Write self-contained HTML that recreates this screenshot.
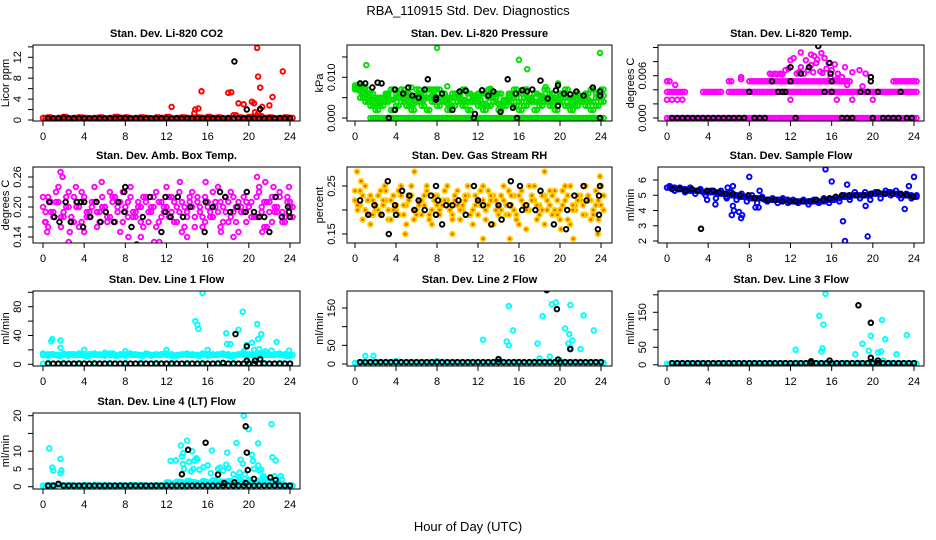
<!DOCTYPE html>
<html><head><meta charset="utf-8"><style>
html,body{margin:0;padding:0;background:#fff}
svg{display:block;font-family:"Liberation Sans",Arial,sans-serif}
</style></head><body>
<svg id="chart" width="936" height="540" viewBox="0 0 936 540" xmlns="http://www.w3.org/2000/svg">
<rect x="0" y="0" width="936" height="540" fill="#fff"/>
<text x="468" y="15" font-size="13" text-anchor="middle">RBA_110915  Std. Dev. Diagnostics</text>
<text x="468" y="531" font-size="13" text-anchor="middle">Hour of Day (UTC)</text>
</svg>
<script>
// ---------- data ----------
const xTicks=[0,4,8,12,16,20,24];
const co2Band=[0.4,0.5,0.3,0.4,0.6,0.3,0.4,0.5,0.4,0.3,0.4,0.5,0.3,0.4,0.6,0.4,0.5,0.3,0.4,0.5,0.4,0.3,0.5,0.4,0.6,0.3,0.4,0.5,0.4,0.3,0.5,0.4,0.6,0.4,0.5,0.3,0.4,0.9,0.5,0.4,0.6,0.5,0.7,0.4,0.5,0.3,0.4,0.5,0.4];
const co2OutX=[12.5,14.8,15.1,15.4,18,18.3,19,19.5,20.3,20.5,20.8,20.9,21.1,21.3,22,22.3,23.3,20.6,20.9,14.7];
const co2OutY=[2.5,2,2.2,5.5,5.2,5.3,3.2,3,3.5,3.2,13.8,8.3,6.2,2.5,2.8,4.4,9.3,1.5,1.2,1.3];
const co2Black=[0.3,0.3,0.3,0.4,0.3,0.3,0.3,0.3,0.3,0.3,0.3,0.3,0.3,0.3,0.4,0.3,0.3,0.3,0.3,0.3,0.3,0.3,0.3,0.3,0.3,0.3,0.3,0.3,0.3,0.3,0.3,0.3,0.3,0.3,0.3,0.3,0.3,0.3,0.3,0.3,0.3,0.3,0.3,0.3,0.3,0.3,0.3,0.3];
const co2BlkX=[18.6,19.8,21.1];
const co2BlkY=[11.2,2,2.1];

const prsA=[0.008,0.008,0.007,0.006,0.005,0.004,0.006,0.007,0.006,0.007,0.006,0.005,0.007,0.006,0.007,0.007,0.007,0.006,0.005,0.006,0.006,0.007,0.006,0.005,0.006,0.006,0.007,0.005,0.006,0.004,0.006,0.007,0.006,0.007,0.005,0.006,0.004,0.007,0.006,0.005,0.006,0.007,0.005,0.006,0.004,0.006,0.007,0.006,0.007];
const prsB=[0.007,0.005,0.004,0.003,0.002,0.003,0.004,0.002,0.003,0.004,0.003,0.002,0.004,0.003,0.002,0.004,0.003,0.004,0.002,0.003,0.004,0.003,0.002,0.004,0.003,0.002,0.003,0.004,0.002,0.003,0.004,0.003,0.002,0.003,0.004,0.002,0.003,0.004,0.003,0.002,0.004,0.003,0.002,0.003,0.004,0.003,0.002,0.003,0.004];
const prsC=[0.0075,0.0065,0.0055,0.0045,0.0035,0.005,0.0055,0.0045,0.005,0.0055,0.0045,0.0035,0.0055,0.0045,0.005,0.0055,0.005,0.0045,0.0035,0.005,0.0055,0.0045,0.004,0.0055,0.0045,0.0035,0.005,0.006,0.0035,0.0045,0.0055,0.005,0.004,0.005,0.0045,0.004,0.0055,0.005,0.0045,0.004,0.0055,0.005,0.0035,0.0045,0.005,0.0045,0.004,0.005,0.0055];
const prsZero=[null,null,null,0,0,0,0,0,0,0,0,0,0,0,0,0,0,0,0,0,0,0,0,0,0,0,0,0,0,0,0,0,0,0,0,0,0,0,0,0,0,0,0,0,0,0,0,0,0];
const prsOutX=[1.1,8,16,16.8,19.8,23.9,5.5,9,13.2,18.6];
const prsOutY=[0.013,0.0172,0.0143,0.012,0.0085,0.016,0.0075,0.0078,0.0072,0.0076];
const prsBlkX=[0.5,1,1.7,2.2,2.6,3.3,3.9,3.9,4.7,5.2,5.6,6.2,6.8,7.1,7.9,7.9,8.5,9.5,10.2,10.8,11.6,11.7,12.4,13,13.5,14.2,14.9,15.4,15.8,15.7,16.3,16.8,17.3,18.1,18.8,19.6,19.8,19.8,20.4,21,21.6,22.3,23.2,23.9,23.9,23.9];
const prsBlkY=[0.0085,0.0085,0.0075,0.0087,0.0085,0,0.007,0.002,0.006,0.0075,0.0055,0.005,0.007,0.0095,0.0045,0.005,0.006,0.002,0.0065,0.0067,0,0.001,0.0068,0.0055,0.0065,0.0015,0.0095,0.0025,0,0.006,0.0068,0.0065,0.007,0.0092,0.0048,0.0068,0.008,0.003,0.006,0.0058,0.0065,0.0055,0.0075,0.0065,0.0055,0];

const tmpL37=[0.0037,0.0037,0.0037,0.0037,null,null,null,0.0037,0.0037,0.0037,0.0037,null,0.0037,0.0037,0.0037,0.0037,0.0037,0.0037,0.0037,0.0037,0.0037,0.0037,0.0037,0.0037,0.0037,0.0037,0.0037,0.0037,0.0037,0.0037,0.0037,0.0037,0.0037,0.0037,0.0037,0.0037,0.0037,0.0037,0.0037,0.0037,0.0037,0.0037,0.0037,0.0037,0.0037,0.0037,0.0037,0.0037,0.0037];
const tmpL52=[0.0052,null,null,null,null,null,null,null,null,null,null,null,0.0052,null,null,null,0.0052,0.0052,0.0052,0.0052,0.0052,0.0052,0.0052,0.0052,0.0052,0.0052,0.0052,0.0052,0.0052,0.0052,0.0052,0.0052,0.0052,0.0052,0.0052,0.0052,null,null,null,null,null,null,null,null,0.0052,0.0052,0.0052,0.0052,0.0052];
const tmpL26=[0.0026,0.0026,0.0026,0.0026,null,null,null,null,null,null,null,null,null,null,null,null,null,null,null,null,null,null,null,null,0.0026,null,null,null,null,null,null,null,null,0.0026,null,null,0.0026,null,null,null,0.0026,null,null,null,null,null,null,null,null];
const tmpZero=[0,0,0,0,0,0,0,0,0,0,0,0,0,0,0,0,0,0,0,0,0,0,0,0,0,0,0,0,0,0,0,0,0,0,0,0,0,0,0,0,0,0,0,0,0,0,0,0,0];
const tmpUpX=[0.8,7.2,7.2,10,10.5,11,11.5,12,12.3,13,13.5,14,14.3,14.6,15,15.3,14,13,15.5,16,16.5,17,17.3,18,18.7,19.3,16.3,15.7,14.5,13.7,11.8,17.5,19,12.6,14.9,15.9,10.2,10.7,11.2,12.8,13.3,14.2,15.1,16.6];
const tmpUpY=[0.0047,0.0058,0.0055,0.0063,0.0063,0.0063,0.0068,0.0082,0.0085,0.0093,0.0082,0.009,0.0088,0.0083,0.0092,0.0085,0.0075,0.0072,0.007,0.0068,0.0055,0.0058,0.0072,0.0065,0.0068,0.0063,0.0076,0.0078,0.0078,0.0068,0.007,0.0047,0.0045,0.0063,0.0066,0.0058,0.0062,0.0062,0.0062,0.0065,0.0063,0.0065,0.0064,0.0063];
const tmpBlkX=[0.5,1,1.5,2,2.5,3,3.5,4,4.5,5,5.5,6,6.5,7,7.5,8.5,9,9.5,12.5,17,17.5,18,20,21,21.5,22,22.5,23.3,23.8,8,10.8,11.2,11.5,15.3,16,18.8,19.5,20.5,22.7,10.2,12,16,19.8,12,13,13.8,14.7,15.8,15.9,19.8];
const tmpBlkY=[0,0,0,0,0,0,0,0,0,0,0,0,0,0,0,0,0,0,0,0,0,0,0,0,0,0,0,0,0,0.0037,0.0037,0.0037,0.0037,0.0037,0.0037,0.0037,0.0037,0.0037,0.0037,0.0052,0.0052,0.0052,0.0052,0.0072,0.0063,0.0072,0.0102,0.0078,0.0063,0.0058];

const ambA=[0.20,0.22,0.18,0.21,0.19,0.23,0.17,0.20,0.22,0.18,0.21,0.19,0.20,0.23,0.17,0.21,0.19,0.22,0.18,0.20,0.21,0.19,0.23,0.18,0.20,0.22,0.17,0.21,0.19,0.20,0.22,0.18,0.21,0.23,0.19,0.20,0.17,0.22,0.21,0.19,0.20,0.18,0.23,0.21,0.19,0.20,0.22,0.18,0.21];
const ambB=[0.17,0.19,0.21,0.16,0.22,0.18,0.20,0.17,0.19,0.21,0.16,0.20,0.18,0.22,0.19,0.17,0.21,0.18,0.20,0.16,0.19,0.22,0.17,0.20,0.18,0.21,0.19,0.16,0.22,0.18,0.20,0.17,0.19,0.21,0.16,0.22,0.18,0.20,0.19,0.17,0.21,0.18,0.20,0.16,0.22,0.19,0.17,0.21,0.20];
const ambC=[0.22,0.16,0.19,0.24,0.18,0.20,0.22,0.16,0.21,0.19,0.24,0.17,0.20,0.18,0.22,0.15,0.20,0.24,0.19,0.17,0.22,0.20,0.16,0.21,0.24,0.19,0.20,0.15,0.18,0.23,0.21,0.16,0.20,0.18,0.24,0.17,0.21,0.19,0.15,0.22,0.20,0.18,0.24,0.16,0.21,0.19,0.23,0.17,0.20];
const ambD=[0.19,0.21,0.23,0.18,0.20,0.17,0.21,0.23,0.18,0.20,0.19,0.22,0.17,0.21,0.20,0.23,0.18,0.19,0.21,0.22,0.17,0.20,0.21,0.19,0.22,0.17,0.23,0.20,0.21,0.16,0.19,0.22,0.18,0.20,0.21,0.19,0.23,0.17,0.20,0.21,0.18,0.22,0.19,0.21,0.17,0.20,0.19,0.22,0.18];
const ambOutX=[1.7,1.9,0.2,0.4,2.5,2.6,5.7,4,10.8,11.3,9.5,13.3,14,15.8,17.3,18.5,20.8,21.3,21.6,22.4,23.9,3.2,8.3];
const ambOutY=[0.27,0.26,0.17,0.15,0.13,0.15,0.25,0.15,0.13,0.13,0.14,0.25,0.14,0.25,0.15,0.14,0.26,0.15,0.25,0.24,0.24,0.24,0.14];
const ambBlkX=[0.6,1.1,1.6,2.2,2.7,3.3,3.7,3.9,4,4.6,5.2,5.6,6.1,6.9,7.3,7.9,7.9,8,8.6,9.1,9.7,10.4,11.5,11.9,11.9,12.4,13.1,13.6,14.3,15.7,15.8,16.5,17.2,17.7,18.2,18.9,19.7,19.8,20.5,21,21.5,22,22.6,23.2,23.8,23.9,24];
const ambBlkY=[0.21,0.18,0.17,0.21,0.17,0.21,0.21,0.16,0.21,0.18,0.21,0.17,0.19,0.17,0.21,0.23,0.19,0.24,0.16,0.125,0.18,0.22,0.15,0.22,0.19,0.18,0.22,0.18,0.20,0.15,0.21,0.20,0.23,0.22,0.19,0.20,0.19,0.23,0.19,0.18,0.18,0.15,0.22,0.18,0.20,0.19,0.18];

const rhA=[0.22,0.24,0.20,0.23,0.21,0.19,0.24,0.22,0.20,0.23,0.21,0.25,0.19,0.22,0.24,0.20,0.23,0.21,0.22,0.19,0.24,0.21,0.23,0.20,0.22,0.25,0.21,0.23,0.19,0.22,0.24,0.20,0.23,0.21,0.25,0.22,0.19,0.23,0.21,0.24,0.20,0.22,0.25,0.21,0.23,0.19,0.22,0.24,0.21];
const rhB=[0.20,0.18,0.22,0.19,0.23,0.21,0.18,0.20,0.24,0.19,0.22,0.18,0.21,0.23,0.18,0.22,0.19,0.24,0.20,0.22,0.18,0.23,0.19,0.21,0.24,0.18,0.22,0.20,0.23,0.19,0.21,0.18,0.24,0.20,0.22,0.18,0.23,0.20,0.19,0.22,0.24,0.18,0.21,0.23,0.19,0.22,0.20,0.18,0.23];
const rhC=[0.24,0.21,0.25,0.17,0.20,0.24,0.22,0.18,0.21,0.25,0.17,0.23,0.20,0.19,0.25,0.17,0.21,0.22,0.25,0.18,0.21,0.20,0.25,0.17,0.19,0.22,0.24,0.17,0.21,0.25,0.19,0.23,0.17,0.21,0.20,0.25,0.21,0.17,0.24,0.20,0.18,0.25,0.17,0.20,0.22,0.25,0.18,0.21,0.25];
const rhD=[0.21,0.23,0.19,0.22,0.20,0.22,0.20,0.23,0.19,0.21,0.23,0.20,0.22,0.21,0.19,0.23,0.20,0.22,0.21,0.23,0.20,0.22,0.19,0.23,0.21,0.20,0.23,0.22,0.20,0.21,0.23,0.19,0.22,0.20,0.23,0.21,0.20,0.22,0.23,0.19,0.21,0.23,0.20,0.22,0.21,0.23,0.19,0.22,0.20];
const rhOutX=[0.2,0.6,2.9,4.9,5.8,12.5,15.1,18.5,20.1,21.3,23.9,23.7,9.5,16.7];
const rhOutY=[0.28,0.26,0.25,0.15,0.28,0.14,0.14,0.28,0.16,0.14,0.27,0.15,0.15,0.16];
const rhBlkX=[0.5,1.3,1.9,2.6,3.2,3.3,3.9,4,4.6,5.3,5.8,6.2,6.8,7.4,7.9,7.9,8.1,8.5,8.9,9.5,10.1,10.8,11.6,12,12.5,13.3,14,14.3,15.1,15.2,16.1,16.3,16.7,17.6,18.1,19.4,20.6,20.7,21.4,22.3,22.6,23.7,23.8,23.8,23.9];
const rhBlkY=[0.22,0.19,0.21,0.19,0.26,0.15,0.21,0.19,0.24,0.23,0.2,0.22,0.2,0.23,0.25,0.19,0.22,0.17,0.21,0.21,0.22,0.19,0.25,0.22,0.21,0.17,0.21,0.18,0.21,0.26,0.25,0.20,0.21,0.2,0.24,0.17,0.16,0.2,0.23,0.25,0.22,0.16,0.19,0.23,0.25];

const flwA=[5.5,5.5,5.4,5.4,5.3,5.3,5.3,5.2,5.2,5.2,5.1,5.1,5.0,5.0,4.9,4.9,4.8,4.8,4.8,4.7,4.7,4.7,4.7,4.7,4.6,4.6,4.6,4.6,4.6,4.6,4.6,4.7,4.7,4.8,4.9,4.9,5.0,5.0,5.0,5.0,5.1,5.1,5.1,5.2,5.1,5.0,5.0,5.0,4.9];
const flwB=[5.6,5.3,5.5,5.2,5.5,5.1,5.4,5.0,5.3,4.8,5.3,4.9,5.2,4.7,5.1,4.6,5.0,4.5,4.9,4.6,4.8,4.5,4.8,4.5,4.7,4.5,4.7,4.4,4.7,4.5,4.8,4.5,4.8,4.6,5.0,4.7,5.2,4.8,5.2,4.7,5.2,4.8,5.3,5.0,5.3,4.8,5.1,4.8,5.0];
const flwOutX=[3.9,4.7,5.8,6.3,6.4,6.5,7,7.2,7.3,8,8.6,8.9,9,15.4,16,17.1,17.3,19.5,19.3,17.5,23.1,23.5,24,5.9,6.4];
const flwOutY=[4.7,4.4,4.8,3.7,4.3,4,3.9,3.5,3.7,6.2,4.2,4.2,5.3,6.7,5.9,3.3,2,2.3,4.3,5.7,4.1,5.6,6.2,5.5,5.6];
const flwBlkX=[0.5,1.2,1.8,2.4,3,3.3,3.9,4.5,5.1,5.7,6.4,7.1,7.9,8.5,9.2,9.8,10.5,11.2,11.9,12.5,13.2,13.9,14.5,15.2,15.8,16.4,17,17.7,18.4,19.1,19.8,20.5,21.2,21.9,22.7,23.3,23.9];
const flwBlkY=[5.4,5.4,5.3,5.4,5.3,2.8,5.3,5.3,5.2,5.1,5.1,5,5,4.8,4.8,4.7,4.7,4.6,4.6,4.6,4.6,4.6,4.7,4.7,4.8,4.9,5,5,5,5,5.1,5.2,5.1,5.1,5.1,5,4.9];

const l1Band=[13,14,13,12,13,14,13,13,12,14,13,13,14,13,12,13,14,13,13,12,14,13,13,14,13,12,13,14,13,13,12,14,13,13,14,13,12,13,14,13,13,12,14,13,13,14,13,12,13];
const l1Band2=[15,12,14,13,15,12,14,15,13,12,15,14,12,15,13,14,12,15,14,13,15,12,14,13,15,14,12,13,15,14,13,15,12,14,13,15,14,12,13,15,14,13,12,15,14,13,15,14,12];
const l1Base=[1,2,1,1,2,1,1,2,1,1,2,1,1,2,1,1,2,1,1,2,1,1,2,1,1,2,1,1,2,1,1,2,1,1,2,1,1,2,1,1,2,1,1,2,1,1,2,1,1];
const l1OutX=[0.8,0.9,1.7,1.7,4,6,8,12,14.8,15,15.1,15.5,16,17.8,17.9,18.2,19,19.4,19.8,20.3,20.8,20.9,21,21.2,22.2,22.7,23.9,6.8,10,19.5,20.5,21.6];
const l1OutY=[32,35,33,23,20,16,18,20,60,55,49,99,20,43,28,28,48,73,27,30,56,35,21,42,19,31,19,15,14,18,20,18];
const l1Blk=[1,1,1,1,1,1,1,1,1,1,1,1,1,1,1,1,1,1,1,1,1,1,1,1,1,1,1,1,1,1,1,1,1,1,2,1,1,1,1,1,1,1,1,1,1,1,1,1];
const l1BlkX=[18.7,19.8,19.8,20.6,21.1];
const l1BlkY=[42,25,5,5,7];

const l2Base=[3,4,3,2,4,3,3,4,3,2,4,3,3,4,3,2,4,3,3,4,3,2,4,3,3,4,3,2,4,3,3,4,3,2,4,3,3,4,3,2,4,3,3,4,3,2,4,3,3];
const l2OutX=[1,1.8,4,8,12.5,14.8,15,15,15.4,17.8,18.3,19.2,19.6,20,20.5,20.8,20.9,21,21.2,21,22,22.3,23.3,19,14,18];
const l2OutY=[22,22,8,8,65,60,155,50,90,55,128,160,165,10,95,55,80,158,63,45,40,130,90,20,10,15];
const l2Blk=[5,5,5,5,5,5,5,5,5,5,5,5,5,5,5,5,5,5,5,5,5,5,5,5,5,5,5,5,5,5,5,5,5,5,5,5,5,5,5,5,5,5,5,5,5,5,5,5];
const l2BlkX=[18.7,19.7,21,14,19.8];
const l2BlkY=[198,147,40,13,12];

const l3Base=[3,4,3,2,4,3,3,4,3,2,4,3,3,4,3,2,4,3,3,4,3,2,4,3,3,4,3,2,4,3,3,4,3,2,4,3,3,4,3,2,4,3,3,4,3,2,4,3,3];
const l3OutX=[12.5,14.8,15,15.2,15.1,15.4,18.3,19,19.6,19.8,20.5,20.8,20.9,21.2,22.3,23.3,20,21];
const l3OutY=[43,140,38,115,47,203,30,60,40,83,35,38,128,73,30,85,10,12];
const l3Blk=[5,5,5,5,5,5,5,5,5,5,5,5,5,5,5,5,5,5,5,5,5,5,5,5,5,5,5,5,5,5,5,5,5,5,5,5,5,5,5,5,5,5,5,5,5,5,5,5];
const l3BlkX=[18.6,19.8,19.8,15.8,14,20.5];
const l3BlkY=[170,120,20,12,10,12];

const l4Base=[0.3,0.4,0.3,0.5,0.3,0.4,0.3,0.3,0.4,0.3,0.5,0.3,0.4,0.3,0.3,0.4,0.3,0.5,0.3,0.4,0.3,0.3,0.4,0.3,0.8,0.5,0.7,0.4,0.9,0.6,0.5,0.8,0.4,0.7,0.6,0.9,0.5,0.8,0.6,0.7,0.9,0.5,0.8,0.6,0.7,0.5,0.4,0.3,0.3];
const l4Up=[null,null,null,null,null,null,null,null,null,null,null,null,null,null,null,null,null,null,null,null,null,null,null,null,1.2,0.9,1.4,1.1,1.6,1.3,1.0,1.5,1.2,1.8,1.1,1.4,1.6,1.2,1.9,1.3,1.5,1.1,1.7,1.2,1.4,1.0,null,null,null];
const l4OutX=[0.6,0.9,1,1.7,1.7,1.8,12.4,12.9,13.4,13.5,13.6,13.6,13.7,14,14.2,14.4,14.5,14.6,14.7,14.9,15,15.2,15.6,16,16.4,16.3,17,17.2,17.5,17.8,17.9,18,18.8,19.1,19.2,19.4,19.5,19.6,20,20.3,20.4,20.5,20.9,20.9,21,21.2,21.4,22.2,22.3,22.6,22.5,23.1,23.2,13.5,15.6,17,18,21,16.8,19,20,22,23,14,12,18.5,21.5];
const l4OutY=[10.8,5.4,4.5,7.8,3.8,4.6,7.3,7.4,11.6,8.5,9.4,6.4,5,13,7,4.3,10,5,7.3,8,7.7,4.8,5.5,6,10.2,3.8,5,5.4,4.5,6.2,9.6,5.3,12.3,4,7.6,6.5,20,3.5,16.2,9,7.3,5,12.2,6,4.6,4.8,3,17.6,8.3,7.4,3,3,2,1.3,1.6,2,1.5,1,1.2,2.5,2,1.5,1,1,1,3.5,2.5];
const l4Blk=[0.3,0.3,0.8,0.3,0.3,0.3,0.3,0.3,0.3,0.3,0.3,0.3,0.3,0.3,0.3,0.3,0.3,0.3,0.3,0.3,0.3,0.3,0.3,0.3,0.3,0.3,0.3,0.3,0.3,0.3,0.3,0.3,0.3,0.3,0.3,0.3,0.3,0.3,0.3,0.3,0.3,0.3,0.3,0.3,0.3,0.3,0.3,0.3];
const l4BlkX=[13.5,14.1,15.8,17,17.6,18.6,19.7,19.8,19.9,19.7,20.5,22.1,22.6];
const l4BlkY=[3.5,10.4,12.4,3.4,1,1.2,17,9.6,4.7,1,2.2,2.6,1.9];

// ---------- drawing ----------
const NS='http://www.w3.org/2000/svg';
const svg=document.getElementById('chart');
function mk(tag,attrs,parent){const e=document.createElementNS(NS,tag);for(const k in attrs)e.setAttribute(k,attrs[k]);(parent||svg).appendChild(e);return e;}
function reg(n,start,step){const a=[];for(let i=0;i<n;i++)a.push(start+i*step);return a;}
let clipN=0;
function panel(p){
  const g=mk('g',{});
  
  
  const sx=h=>p.x0+h*(p.x24-p.x0)/24;
  const sy=v=>p.ya+(v-p.va)*(p.yb-p.ya)/(p.vb-p.va);
  const id='c'+(clipN++);
  const cp=mk('clipPath',{id:id},g);mk('rect',{x:p.bx0,y:p.by0,width:p.bx1-p.bx0,height:p.by1-p.by0},cp);
  const pts=mk('g',{'clip-path':'url(#'+id+')'},g);
  
  
  p.series.forEach(s=>{
    for(let i=0;i<s.y.length;i++){
      if(s.y[i]===null)continue;
      const c=mk('circle',{cx:sx(s.x[i]).toFixed(1),cy:sy(s.y[i]).toFixed(1),r:2.3,fill:s.fill||'none',stroke:s.color,'stroke-width':1.9},pts);
      
      
    }
  });
  const box=mk('rect',{x:p.bx0,y:p.by0,width:p.bx1-p.bx0,height:p.by1-p.by0,fill:'none',stroke:'#000','stroke-width':1},g);
  
  
  mk('line',{x1:sx(0),x2:sx(24),y1:p.by1,y2:p.by1,stroke:'#000'},g);
  xTicks.forEach(t=>{
    mk('line',{x1:sx(t),x2:sx(t),y1:p.by1,y2:p.by1+5,stroke:'#000'},g);
    const tx=mk('text',{x:sx(t),y:p.by1+19,'font-size':11,'text-anchor':'middle'},g);tx.textContent=t;
    
    
  });
  mk('line',{x1:p.bx0,x2:p.bx0,y1:sy(p.ticks[0]),y2:sy(p.ticks[p.ticks.length-1]),stroke:'#000'},g);
  p.ticks.forEach(t=>mk('line',{x1:p.bx0-5,x2:p.bx0,y1:sy(t),y2:sy(t),stroke:'#000'},g));
  p.labels.forEach((lab,i)=>{
    const y=sy(p.labelVals[i]);const x=p.bx0-12;
    const tx=mk('text',{x:x,y:y,'font-size':11,'text-anchor':'middle',transform:'rotate(-90 '+x+' '+y+')'},g);tx.textContent=lab;
    
    
  });
  const yl=p.bx0-24, ym=(p.by0+p.by1)/2;
  const yt=mk('text',{x:yl,y:ym,'font-size':11,'text-anchor':'middle',transform:'rotate(-90 '+yl+' '+ym+')'},g);yt.textContent=p.ylab;
  
  
  const tt=mk('text',{x:(p.bx0+p.bx1)/2,y:p.by0-8,'font-size':11,'font-weight':'bold','text-anchor':'middle'},g);tt.textContent=p.title;
  
  
}
const C1={bx0:33,bx1:300,x0:43,x24:290}, C2={bx0:347,bx1:612,x0:355,x24:601}, C3={bx0:658,bx1:924,x0:667,x24:914};
const R1={by0:45,by1:121},R2={by0:167,by1:243},R3={by0:291,by1:366},R4={by0:413,by1:489};
const H49=reg(49,0,0.5), H49b=reg(49,0.25,0.5), H48=reg(48,0.5,0.5);
const RED='#ff0000',GRN='#00e000',MAG='#ff00ff',BLU='#0000ff',CYN='#00ffff',BLK='#000000';

panel(Object.assign({name:'panel-li820-co2',title:'Stan. Dev. Li-820 CO2',ylab:'Licor ppm',ya:120,va:0,yb:57.3,vb:12,
  ticks:[0,2,4,6,8,10,12,14],labels:['0','4','8','12'],labelVals:[0,4,8,12],
  series:[{x:H49,y:co2Band,color:RED},{x:H49b,y:co2Band,color:RED},{x:co2OutX,y:co2OutY,color:RED},{x:H48,y:co2Black,color:BLK},{x:co2BlkX,y:co2BlkY,color:BLK}]},C1,R1));
panel(Object.assign({name:'panel-li820-pressure',title:'Stan. Dev. Li-820 Pressure',ylab:'kPa',ya:118,va:0,yb:77.3,vb:0.01,
  ticks:[0,0.005,0.01,0.015],labels:['0.000','0.010'],labelVals:[0,0.01],
  series:[{x:H49,y:prsA,color:GRN},{x:H49b,y:prsB,color:GRN},{x:H49b,y:prsA,color:GRN},{x:H49,y:prsB,color:GRN},{x:H49,y:prsC,color:GRN},{x:H49b,y:prsC,color:GRN},{x:H49,y:prsZero,color:GRN},{x:H49b,y:prsZero,color:GRN},{x:prsOutX,y:prsOutY,color:GRN},{x:prsBlkX,y:prsBlkY,color:BLK}]},C2,R1));
panel(Object.assign({name:'panel-li820-temp',title:'Stan. Dev. Li-820 Temp.',ylab:'degrees C',ya:118,va:0,yb:75.7,vb:0.006,
  ticks:[0,0.002,0.004,0.006,0.008,0.01],labels:['0.000','0.006'],labelVals:[0,0.006],
  series:[{x:H49,y:tmpZero,color:MAG},{x:H49b,y:tmpZero,color:MAG},{x:H49,y:tmpL37,color:MAG},{x:H49b,y:tmpL37,color:MAG},{x:H49,y:tmpL52,color:MAG},{x:H49b,y:tmpL52,color:MAG},{x:H49,y:tmpL26,color:MAG},{x:tmpUpX,y:tmpUpY,color:MAG},{x:tmpBlkX,y:tmpBlkY,color:BLK}]},C3,R1));
panel(Object.assign({name:'panel-amb-box-temp',title:'Stan. Dev. Amb. Box Temp.',ylab:'degrees C',ya:237,va:0.14,yb:177,vb:0.26,
  ticks:[0.14,0.16,0.18,0.2,0.22,0.24,0.26],labels:['0.14','0.20','0.26'],labelVals:[0.14,0.2,0.26],
  series:[{x:H49,y:ambA,color:MAG},{x:H49b,y:ambB,color:MAG},{x:H49,y:ambC,color:MAG},{x:H49b,y:ambD,color:MAG},{x:ambOutX,y:ambOutY,color:MAG},{x:ambBlkX,y:ambBlkY,color:BLK}]},C1,R2));
panel(Object.assign({name:'panel-gas-stream-rh',title:'Stan. Dev. Gas Stream RH',ylab:'percent',ya:234,va:0.15,yb:186,vb:0.25,
  ticks:[0.15,0.2,0.25],labels:['0.15','0.25'],labelVals:[0.15,0.25],
  series:[{x:H49,y:rhA,color:'#ffd000',fill:'#f06000'},{x:H49b,y:rhB,color:'#ffd000',fill:'#f06000'},{x:H49,y:rhC,color:'#ffd000',fill:'#f06000'},{x:H49b,y:rhD,color:'#ffd000',fill:'#f06000'},{x:rhOutX,y:rhOutY,color:'#ffd000',fill:'#f06000'},{x:rhBlkX,y:rhBlkY,color:BLK}]},C2,R2));
panel(Object.assign({name:'panel-sample-flow',title:'Stan. Dev. Sample Flow',ylab:'ml/min',ya:241,va:2,yb:180,vb:6,
  ticks:[2,3,4,5,6],labels:['2','3','4','5','6'],labelVals:[2,3,4,5,6],
  series:[{x:H49,y:flwA,color:BLU},{x:H49b,y:flwB,color:BLU},{x:H49b,y:flwA,color:BLU},{x:flwOutX,y:flwOutY,color:BLU},{x:flwBlkX,y:flwBlkY,color:BLK}]},C3,R2));
panel(Object.assign({name:'panel-line1-flow',title:'Stan. Dev. Line 1 Flow',ylab:'ml/min',ya:364.3,va:0,yb:306.7,vb:80,
  ticks:[0,20,40,60,80,100],labels:['0','40','80'],labelVals:[0,40,80],
  series:[{x:H49,y:l1Band,color:CYN},{x:H49b,y:l1Band,color:CYN},{x:H49,y:l1Band2,color:CYN},{x:H49,y:l1Base,color:CYN},{x:l1OutX,y:l1OutY,color:CYN},{x:H48,y:l1Blk,color:BLK},{x:l1BlkX,y:l1BlkY,color:BLK}]},C1,R3));
panel(Object.assign({name:'panel-line2-flow',title:'Stan. Dev. Line 2 Flow',ylab:'ml/min',ya:364,va:0,yb:308,vb:150,
  ticks:[0,50,100,150],labels:['0','50','150'],labelVals:[0,50,150],
  series:[{x:H49,y:l2Base,color:CYN},{x:H49b,y:l2Base,color:CYN},{x:l2OutX,y:l2OutY,color:CYN},{x:H48,y:l2Blk,color:BLK},{x:l2BlkX,y:l2BlkY,color:BLK}]},C2,R3));
panel(Object.assign({name:'panel-line3-flow',title:'Stan. Dev. Line 3 Flow',ylab:'ml/min',ya:364.8,va:0,yb:312.3,vb:150,
  ticks:[0,50,100,150,200],labels:['0','50','150'],labelVals:[0,50,150],
  series:[{x:H49,y:l3Base,color:CYN},{x:H49b,y:l3Base,color:CYN},{x:l3OutX,y:l3OutY,color:CYN},{x:H48,y:l3Blk,color:BLK},{x:l3BlkX,y:l3BlkY,color:BLK}]},C3,R3));
panel(Object.assign({name:'panel-line4-flow',title:'Stan. Dev. Line 4 (LT) Flow',ylab:'ml/min',ya:486.7,va:0,yb:415.7,vb:20,
  ticks:[0,5,10,15,20],labels:['0','5','10','20'],labelVals:[0,5,10,20],
  series:[{x:H49,y:l4Base,color:CYN},{x:H49b,y:l4Base,color:CYN},{x:H49,y:l4Up,color:CYN},{x:H49b,y:l4Up,color:CYN},{x:l4OutX,y:l4OutY,color:CYN},{x:H48,y:l4Blk,color:BLK},{x:l4BlkX,y:l4BlkY,color:BLK}]},C1,R4));
</script>
</body></html>
